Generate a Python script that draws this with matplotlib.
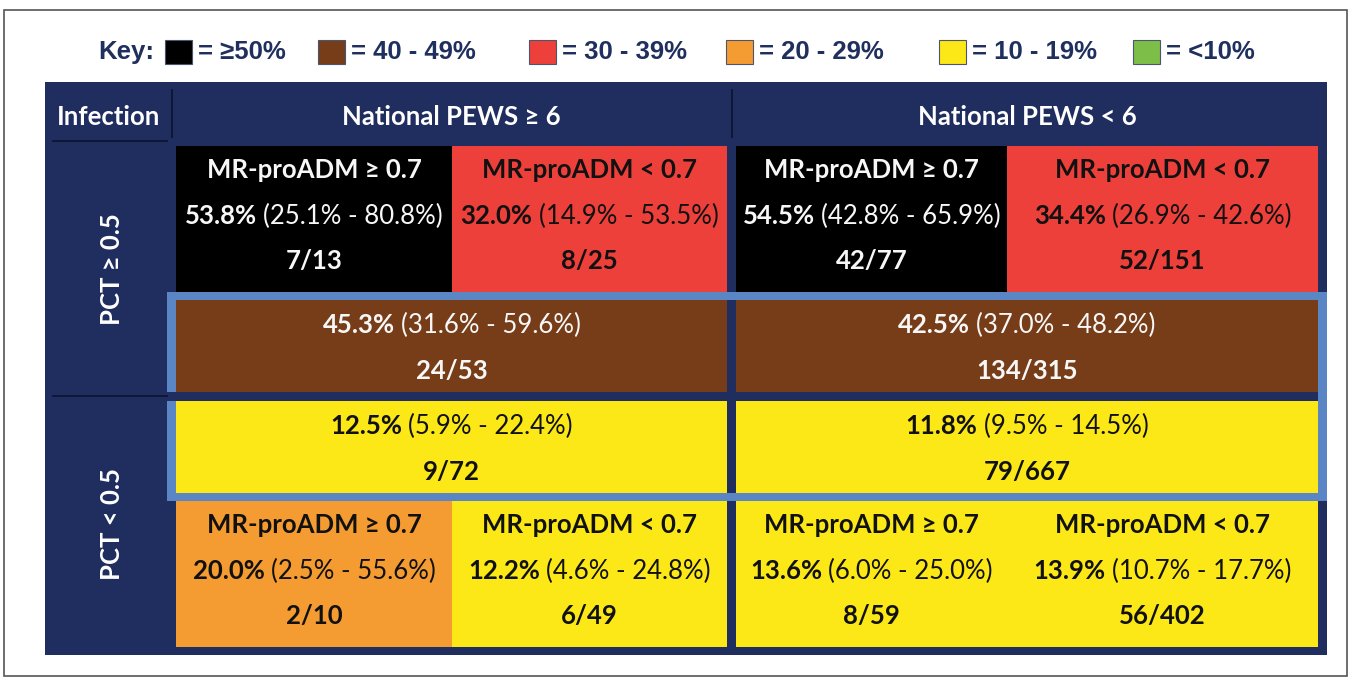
import matplotlib
matplotlib.use('Agg')
import matplotlib.pyplot as plt
from matplotlib.patches import Rectangle
from matplotlib import font_manager

# --- data -------------------------------------------------------------
key_labels = ['= ≥50%', '= 40 - 49%', '= 30 - 39%', '= 20 - 29%', '= 10 - 19%', '= <10%']
key_colors = ['#000000', '#763D18', '#EE403B', '#F49B31', '#FBE816', '#7DBE48']
key_floor = [50, 40, 30, 20, 10, 0]

pews_groups = ['National PEWS ≥ 6', 'National PEWS < 6']
pct_rows = ['PCT ≥ 0.5', 'PCT < 0.5']
mrproadm_labels = ['MR-proADM ≥ 0.7', 'MR-proADM < 0.7']

# PCT >= 0.5 split by MR-proADM: PEWS>=6 (>=0.7, <0.7), PEWS<6 (>=0.7, <0.7)
pct_high_split_rate = [53.8, 32.0, 54.5, 34.4]
pct_high_split_ci = [(25.1, 80.8), (14.9, 53.5), (42.8, 65.9), (26.9, 42.6)]
pct_high_split_n = ['7/13', '8/25', '42/77', '52/151']

# PCT >= 0.5 pooled, PEWS>=6 / PEWS<6
pct_high_rate = [45.3, 42.5]
pct_high_ci = [(31.6, 59.6), (37.0, 48.2)]
pct_high_n = ['24/53', '134/315']

# PCT < 0.5 pooled
pct_low_rate = [12.5, 11.8]
pct_low_ci = [(5.9, 22.4), (9.5, 14.5)]
pct_low_n = ['9/72', '79/667']

# PCT < 0.5 split by MR-proADM
pct_low_split_rate = [20.0, 12.2, 13.6, 13.9]
pct_low_split_ci = [(2.5, 55.6), (4.6, 24.8), (6.0, 25.0), (10.7, 17.7)]
pct_low_split_n = ['2/10', '6/49', '8/59', '56/402']

# --- style / layout ---------------------------------------------------
NAVY = '#202D5F'
OUTLINE = '#5B86C5'
KEY_TXT = '#1F2F5E'

installed = {f.name for f in font_manager.fontManager.ttflist}
KEY_FONT = ['Liberation Sans', 'DejaVu Sans'] if 'Liberation Sans' in installed else ['DejaVu Sans']
KEY_SIZE = 18.5
CELL_FONT = ['Lato', 'DejaVu Sans']
CELL_SIZE = 18.5
CAP = 0.7165 * CELL_SIZE * 100 / 72
GAP = 6

TBL_L, TBL_R, TBL_T, TBL_B = 45, 1327, 82, 655
GROUP_X = [(176, 727), (736, 1318)]
SPLIT_X = [452, 1007]
ROW1 = (146, 292)
BAND_HI = (300, 392)
BAND_LO = (401, 493)
ROW4 = (501, 647)
SPLIT_LINES = [23, 68.5, 114]
BAND_LINES = [23.5, 69.5]
KEY_BOX_X = [165, 318, 529, 726, 939, 1133]

fig = plt.figure(figsize=(13.5, 6.77), dpi=100)
ax = fig.add_axes([0, 0, 1, 1])
ax.set_xlim(0, 1350)
ax.set_ylim(677, 0)
ax.axis('off')
renderer = fig.canvas.get_renderer()


def color_for(rate):
    for floor, c in zip(key_floor, key_colors):
        if rate >= floor:
            return c
    return key_colors[-1]


def text_color(fill):
    return '#F7F7F7' if fill in ('#000000', '#763D18') else '#111111'


def line(x, yc, parts, color):
    items = [ax.text(0, yc + CAP / 2, s, ha='left', va='baseline', color=color,
                     fontsize=CELL_SIZE, fontweight=w, family=CELL_FONT)
             for s, w in parts]
    widths = [t.get_window_extent(renderer).width for t in items]
    x0 = x - (sum(widths) + GAP * (len(items) - 1)) / 2
    for t, w in zip(items, widths):
        t.set_x(x0)
        x0 += w + GAP


def rate_parts(rate, ci):
    return [(f'{rate:.1f}%', 'bold'), (f'({ci[0]:.1f}% - {ci[1]:.1f}%)', 'normal')]


def box(x0, x1, y0, y1, c, **kw):
    ax.add_patch(Rectangle((x0, y0), x1 - x0, y1 - y0, facecolor=c, edgecolor='none', **kw))


# outer frame
ax.add_patch(Rectangle((4, 10), 1343, 666, fill=False, edgecolor='#555555', lw=1.2))

# key
ax.text(154, 52, 'Key:', ha='right', va='center', color=KEY_TXT, fontsize=KEY_SIZE,
        fontweight='bold', family=KEY_FONT)
for bx, c, lab in zip(KEY_BOX_X, key_colors, key_labels):
    ax.add_patch(Rectangle((bx, 40), 27, 24, facecolor=c, edgecolor='#4A5570', lw=0.8))
    ax.text(bx + 33, 52, lab, ha='left', va='center', color=KEY_TXT, fontsize=KEY_SIZE,
            fontweight='bold', family=KEY_FONT)

# navy table
box(TBL_L, TBL_R, TBL_T, TBL_B, NAVY)
ax.text(109, 117, 'Infection', ha='center', va='center', color='white',
        fontsize=CELL_SIZE, fontweight='bold', family=CELL_FONT)
for (g0, g1), name in zip(GROUP_X, pews_groups):
    ax.text((g0 + g1) / 2, 117, name, ha='center', va='center', color='white',
            fontsize=CELL_SIZE, fontweight='bold', family=CELL_FONT)
for sx in [172, 732]:
    ax.plot([sx, sx], [90, 137], color='#0E1533', lw=1.3)
ax.plot([53, 167], [141, 141], color='#0E1533', lw=1.3)
ax.plot([53, 167], [396, 396], color='#0E1533', lw=1.3)
ax.text(112, (ROW1[0] + BAND_HI[1]) / 2, pct_rows[0], rotation=90, ha='center', va='center',
        color='white', fontsize=CELL_SIZE, fontweight='bold', family=CELL_FONT)
ax.text(112, (BAND_LO[0] + ROW4[1]) / 2, pct_rows[1], rotation=90, ha='center', va='center',
        color='white', fontsize=CELL_SIZE, fontweight='bold', family=CELL_FONT)

# split rows (MR-proADM subgroups)
for (r0, r1), rates, cis, ns in [(ROW1, pct_high_split_rate, pct_high_split_ci, pct_high_split_n),
                                 (ROW4, pct_low_split_rate, pct_low_split_ci, pct_low_split_n)]:
    for g, ((g0, g1), sx) in enumerate(zip(GROUP_X, SPLIT_X)):
        for k, (c0, c1) in enumerate([(g0, sx), (sx, g1)]):
            i = 2 * g + k
            fill = color_for(rates[i])
            box(c0, c1, r0, r1, fill)
            tc = text_color(fill)
            cx = (c0 + c1) / 2
            line(cx, r0 + SPLIT_LINES[0], [(mrproadm_labels[k], 'bold')], tc)
            line(cx, r0 + SPLIT_LINES[1], rate_parts(rates[i], cis[i]), tc)
            line(cx, r0 + SPLIT_LINES[2], [(ns[i], 'bold')], tc)

# pooled bands with blue outline
box(167, 1327, ROW1[1], ROW4[0], OUTLINE)
box(176, 1318, BAND_HI[0], BAND_LO[1], NAVY)
box(167, 1318, BAND_HI[1], BAND_LO[0], NAVY)
for (b0, b1), rates, cis, ns in [(BAND_HI, pct_high_rate, pct_high_ci, pct_high_n),
                                 (BAND_LO, pct_low_rate, pct_low_ci, pct_low_n)]:
    for g, (g0, g1) in enumerate(GROUP_X):
        fill = color_for(rates[g])
        box(g0, g1, b0, b1, fill)
        tc = text_color(fill)
        cx = (g0 + g1) / 2
        line(cx, b0 + BAND_LINES[0], rate_parts(rates[g], cis[g]), tc)
        line(cx, b0 + BAND_LINES[1], [(ns[g], 'bold')], tc)

fig.savefig('out.png', dpi=100)
